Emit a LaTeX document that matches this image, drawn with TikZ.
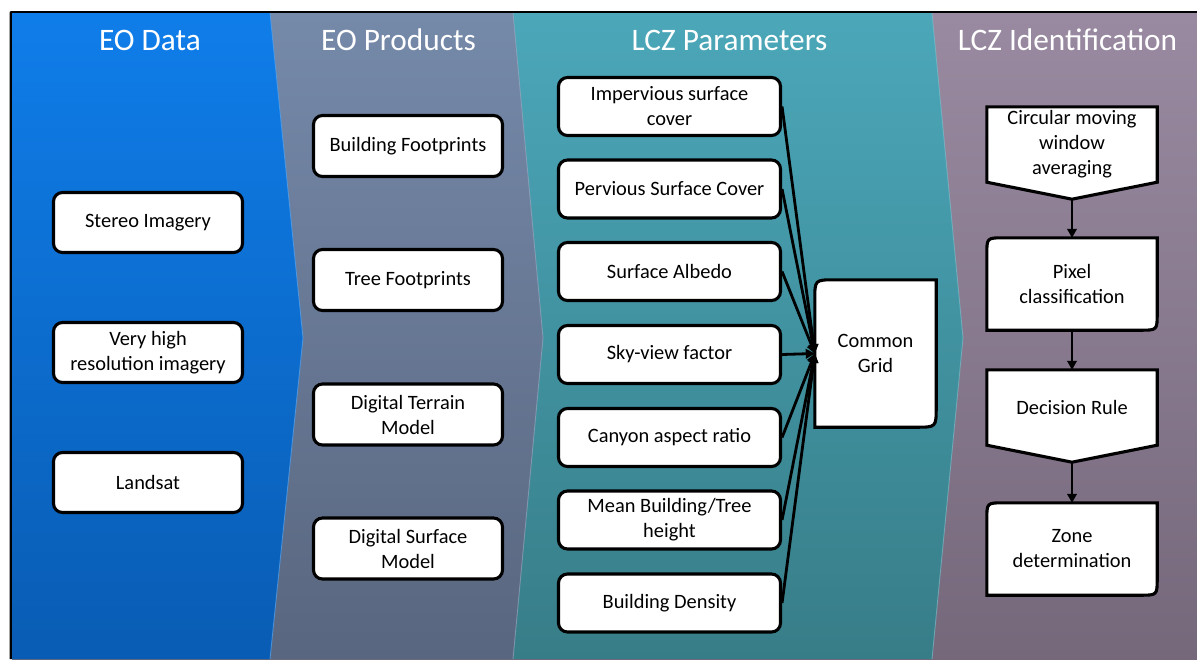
\documentclass[tikz,border=0pt]{standalone}
\usepackage{fontspec}
\setmainfont{Carlito}
\usetikzlibrary{arrows.meta}

\definecolor{dataTop}{HTML}{0F7DE9}
\definecolor{dataBot}{HTML}{095CB3}
\definecolor{prodTop}{HTML}{7589A9}
\definecolor{prodBot}{HTML}{59667F}
\definecolor{parTop}{HTML}{4BA7B9}
\definecolor{parBot}{HTML}{377D88}
\definecolor{idTop}{HTML}{998AA1}
\definecolor{idBot}{HTML}{76687B}

\pgfdeclarelayer{panels}
\pgfdeclarelayer{shapes}
\pgfsetlayers{panels,shapes,main}

\begin{document}
\begin{tikzpicture}[x=1pt,y=-1pt,
  head/.style={text=white, font=\fontsize{31.3}{36}\selectfont, anchor=base},
  txt/.style={font=\fontsize{20.4}{25}\selectfont, align=center, text=black},
  box/.style={txt, draw=black, line width=3.1pt, fill=white, rounded corners=9pt,
              inner sep=0pt},
  databox/.style={box, minimum width=189pt, minimum height=60pt},
  prodbox/.style={box, minimum width=189pt, minimum height=61pt},
  parbox/.style={box, minimum width=222pt, minimum height=58pt},
  plain/.style={txt, inner sep=0pt},
  shapeline/.style={draw=black, line width=3.1pt, fill=white, line join=miter},
  arr/.style={draw=black, line width=2.8pt, -{Triangle[length=9pt,width=9.5pt]}},
  edge/.style={line width=0.9pt}
]
\useasboundingbox (0,0) rectangle (1197,659);

% ---------- background panels ----------
\begin{pgfonlayer}{panels}
  \fill[black] (9.5,659) -- (9.5,14) .. controls (9.5,11) .. (12.5,11)
     -- (1197,11) -- (1197,659) -- cycle;
  \shade[top color=idTop, bottom color=idBot]
     (12,13) rectangle (1197,659);
  \shade[top color=parTop, bottom color=parBot]
     (12,13) -- (932,13) -- (963,338) -- (932,659) -- (12,659) -- cycle;
  \draw[edge, parTop!70!white, opacity=0.6] (932,13) -- (963,338) -- (932,659);
  \shade[top color=prodTop, bottom color=prodBot]
     (12,13) -- (513,13) -- (543,338) -- (513,659) -- (12,659) -- cycle;
  \draw[edge, prodTop!70!white, opacity=0.6] (513,13) -- (543,338) -- (513,659);
  \shade[top color=dataTop, bottom color=dataBot]
     (12,13) -- (270,13) -- (303,338) -- (270,659) -- (12,659) -- cycle;
  \draw[edge, dataTop!70!white, opacity=0.7] (270,13) -- (303,338) -- (270,659);
\end{pgfonlayer}

% ---------- column headings ----------
\node[head] (hData) at (150,50) {EO Data};
\node[head] (hProd) at (398.5,50) {EO Products};
\node[head] (hPar)  at (729.5,50) {LCZ Parameters};
\node[head] (hId)   at (1067.5,50) {LCZ Identification};

% ---------- EO data ----------
\node[databox] (stereo) at (148,222.5) {Stereo Imagery};
\node[databox] (vhr)    at (148,352.5) {Very high\\resolution imagery};
\node[databox] (land)   at (148,482.5) {Landsat};

% ---------- EO products ----------
\node[prodbox] (bfp) at (408,146)   {Building Footprints};
\node[prodbox] (tfp) at (408,280)   {Tree Footprints};
\node[prodbox] (dtm) at (408,414.5) {Digital Terrain\\Model};
\node[prodbox] (dsm) at (408,548.5) {Digital Surface\\Model};

% ---------- LCZ parameters ----------
\node[parbox] (imp) at (669.5,106.5) {Impervious surface\\cover};
\node[parbox] (per) at (669.5,189)   {Pervious Surface Cover};
\node[parbox] (alb) at (669.5,271.5) {Surface Albedo};
\node[parbox] (svf) at (669.5,354.5) {Sky-view factor};
\node[parbox] (car) at (669.5,437.5) {Canyon aspect ratio};
\node[parbox] (mbh) at (669.5,520)   {Mean Building/Tree\\height};
\node[parbox] (bd)  at (669.5,603)   {Building Density};

% ---------- common grid (diagonal rounded card) ----------
\node[plain, minimum width=121pt, minimum height=147pt] (cg) at (875.5,353.5)
  {Common\\Grid};

% ---------- LCZ identification ----------
\node[plain, minimum width=170pt, minimum height=75pt] (circ) at (1072,144.5)
  {Circular moving\\window\\averaging};
\coordinate (circtip) at ([yshift=-17pt]circ.south);
\node[plain, minimum width=170pt, minimum height=92pt] (pix) at (1072,284)
  {Pixel\\classification};
\node[plain, minimum width=170pt, minimum height=75pt] (dec) at (1072,407.5)
  {Decision Rule};
\coordinate (dectip) at ([yshift=-17pt]dec.south);
\node[plain, minimum width=170pt, minimum height=92pt] (zone) at (1072,549)
  {Zone\\determination};

\begin{pgfonlayer}{shapes}
  % cards with rounded top-left and bottom-right corners
  \foreach \n/\r in {cg/20, pix/17, zone/17}{
    \draw[shapeline] (\n.south west) -- ([yshift=-\r pt]\n.north west)
      .. controls (\n.north west) .. ([xshift=\r pt]\n.north west)
      -- (\n.north east) -- ([yshift=\r pt]\n.south east)
      .. controls (\n.south east) .. ([xshift=-\r pt]\n.south east) -- cycle;
  }
  % off-page connector shapes
  \draw[shapeline] (circ.south west) -- (circ.north west) -- (circ.north east)
    -- (circ.south east) -- (circtip) -- cycle;
  \draw[shapeline] (dec.south west) -- (dec.north west) -- (dec.north east)
    -- (dec.south east) -- (dectip) -- cycle;
\end{pgfonlayer}

% ---------- connectors ----------
\foreach \p in {imp, per, alb, svf, car, mbh, bd}{
  \draw[arr] (\p.east) -- (cg.west);
}
\draw[arr] (circtip) -- (pix.north);
\draw[arr] (pix.south) -- (dec.north);
\draw[arr] (dectip) -- (zone.north);

\end{tikzpicture}
\end{document}
